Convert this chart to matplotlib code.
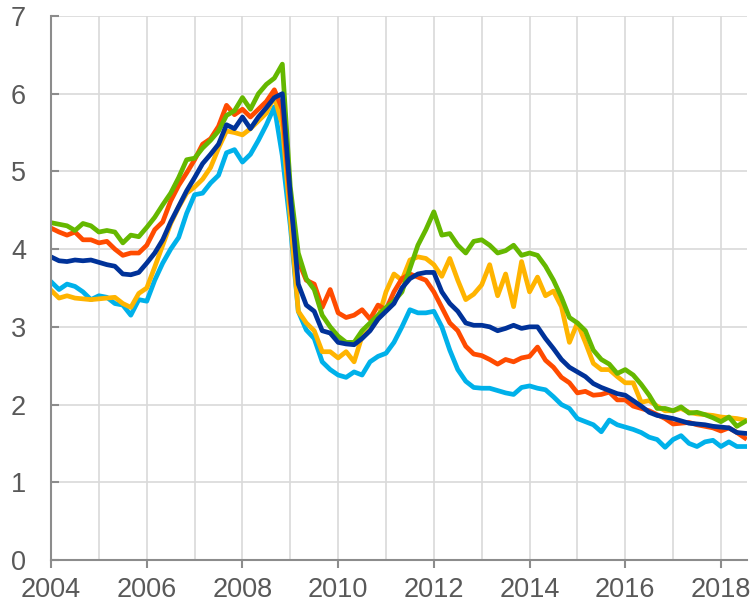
import numpy as np
import matplotlib
matplotlib.use("Agg")
from matplotlib import pyplot as plt
from matplotlib.ticker import MultipleLocator

# bimonthly observations, Jan 2004 .. Jul 2018
start_year = 2004
step = 1 / 6

green = [4.34, 4.32, 4.30, 4.24, 4.33, 4.30, 4.22, 4.24, 4.22, 4.08, 4.18, 4.16,
         4.28, 4.41, 4.57, 4.72, 4.92, 5.15, 5.17, 5.30, 5.40, 5.52, 5.72, 5.78,
         5.95, 5.80, 6.00, 6.12, 6.20, 6.38, 4.80, 3.95, 3.62, 3.48, 3.15, 3.00,
         2.88, 2.80, 2.80, 2.95, 3.05, 3.15, 3.25, 3.33, 3.45, 3.75, 4.05, 4.25,
         4.48, 4.18, 4.20, 4.05, 3.95, 4.10, 4.12, 4.05, 3.95, 3.98, 4.05, 3.92,
         3.95, 3.92, 3.78, 3.60, 3.38, 3.12, 3.05, 2.95, 2.70, 2.58, 2.52, 2.40,
         2.45, 2.38, 2.26, 2.12, 1.95, 1.95, 1.92, 1.97, 1.89, 1.90, 1.87, 1.83,
         1.78, 1.84, 1.72, 1.78]

orange = [4.27, 4.22, 4.18, 4.22, 4.12, 4.12, 4.08, 4.10, 4.00, 3.92, 3.95, 3.95,
          4.05, 4.25, 4.35, 4.62, 4.82, 4.98, 5.15, 5.35, 5.42, 5.58, 5.85, 5.73,
          5.80, 5.70, 5.80, 5.90, 6.05, 5.80, 4.60, 3.85, 3.60, 3.55, 3.25, 3.48,
          3.18, 3.12, 3.15, 3.22, 3.10, 3.28, 3.22, 3.45, 3.62, 3.68, 3.64, 3.60,
          3.45, 3.25, 3.05, 2.95, 2.75, 2.65, 2.63, 2.58, 2.52, 2.58, 2.55, 2.60,
          2.62, 2.74, 2.57, 2.48, 2.35, 2.28, 2.15, 2.17, 2.12, 2.13, 2.16, 2.06,
          2.06, 1.98, 1.95, 1.92, 1.87, 1.82, 1.75, 1.76, 1.77, 1.74, 1.72, 1.70,
          1.66, 1.70, 1.64, 1.57]

navy = [3.90, 3.85, 3.84, 3.86, 3.85, 3.86, 3.83, 3.80, 3.78, 3.68, 3.67, 3.70,
        3.82, 3.95, 4.12, 4.35, 4.55, 4.75, 4.92, 5.10, 5.22, 5.35, 5.60, 5.55,
        5.70, 5.55, 5.70, 5.82, 5.95, 6.00, 4.70, 3.55, 3.28, 3.20, 2.95, 2.92,
        2.80, 2.78, 2.77, 2.85, 2.95, 3.10, 3.20, 3.30, 3.50, 3.62, 3.68, 3.70,
        3.70, 3.45, 3.30, 3.20, 3.05, 3.02, 3.02, 3.00, 2.95, 2.98, 3.02, 2.98,
        3.00, 3.00, 2.85, 2.72, 2.58, 2.48, 2.42, 2.36, 2.27, 2.22, 2.18, 2.14,
        2.12, 2.05, 1.98, 1.90, 1.86, 1.84, 1.82, 1.79, 1.76, 1.75, 1.74, 1.72,
        1.71, 1.70, 1.64, 1.63]

cyan = [3.58, 3.48, 3.55, 3.52, 3.45, 3.35, 3.40, 3.38, 3.30, 3.28, 3.15, 3.35,
        3.33, 3.60, 3.82, 4.00, 4.15, 4.46, 4.70, 4.72, 4.85, 4.95, 5.24, 5.28,
        5.12, 5.22, 5.40, 5.60, 5.83, 5.20, 4.30, 3.20, 2.96, 2.85, 2.55, 2.45,
        2.38, 2.35, 2.42, 2.38, 2.55, 2.62, 2.66, 2.80, 3.00, 3.22, 3.18, 3.18,
        3.20, 3.00, 2.70, 2.45, 2.30, 2.22, 2.21, 2.21, 2.18, 2.15, 2.13, 2.22,
        2.24, 2.21, 2.19, 2.10, 2.00, 1.95, 1.82, 1.78, 1.74, 1.65, 1.80, 1.74,
        1.71, 1.68, 1.64, 1.58, 1.55, 1.45, 1.55, 1.60, 1.50, 1.46, 1.52, 1.54,
        1.46, 1.52, 1.46, 1.46]

yellow = [3.47, 3.37, 3.40, 3.37, 3.36, 3.35, 3.36, 3.37, 3.38, 3.30, 3.25, 3.43,
          3.50, 3.77, 4.05, 4.33, 4.54, 4.72, 4.80, 4.90, 5.05, 5.30, 5.52, 5.50,
          5.47, 5.55, 5.65, 5.75, 5.96, 5.60, 4.40, 3.20, 3.05, 2.95, 2.68, 2.68,
          2.60, 2.68, 2.55, 2.88, 2.96, 3.10, 3.45, 3.68, 3.60, 3.86, 3.90, 3.88,
          3.80, 3.65, 3.88, 3.60, 3.35, 3.42, 3.54, 3.80, 3.40, 3.68, 3.26, 3.84,
          3.45, 3.64, 3.40, 3.46, 3.26, 2.80, 3.05, 2.80, 2.53, 2.45, 2.45, 2.36,
          2.28, 2.28, 2.03, 2.05, 1.98, 1.92, 1.92, 1.95, 1.90, 1.88, 1.87, 1.86,
          1.84, 1.83, 1.82, 1.80]

x = start_year + step * np.arange(len(green))

plt.rcParams['font.family'] = ['Liberation Sans', 'DejaVu Sans']
fig = plt.figure(figsize=(7.51, 6.05), dpi=100)
ax = fig.add_axes([0.068, 0.0744, 0.927, 0.8992])

lw = 3.4
ax.plot(x, cyan, color='#00B1EA', lw=lw)
ax.plot(x, yellow, color='#FFB400', lw=lw)
ax.plot(x, orange, color='#FF4B00', lw=lw)
ax.plot(x, green, color='#65B800', lw=lw)
ax.plot(x, navy, color='#003299', lw=lw)

ax.set_xlim(2004, 2018.55)
ax.set_ylim(0, 7)
ax.xaxis.set_major_locator(MultipleLocator(2))
ax.xaxis.set_minor_locator(MultipleLocator(1))
ax.yaxis.set_major_locator(MultipleLocator(1))
ax.grid(True, which='both', color='#d9d9d9', lw=1.2)
ax.set_axisbelow(True)

for s in ['top', 'right']:
    ax.spines[s].set_visible(False)
for s in ['left', 'bottom']:
    ax.spines[s].set_color('#8c8c8c')
    ax.spines[s].set_linewidth(1.5)

ax.tick_params(axis='x', which='major', direction='out', length=6, width=1.5,
               color='#8c8c8c', labelsize=19.5, labelcolor='#595959', pad=6)
ax.tick_params(axis='x', which='minor', length=0)
ax.tick_params(axis='y', direction='in', length=6, width=1.5, color='#8c8c8c',
               labelsize=19.5, labelcolor='#595959', pad=18)

fig.savefig('out.png', dpi=100)
